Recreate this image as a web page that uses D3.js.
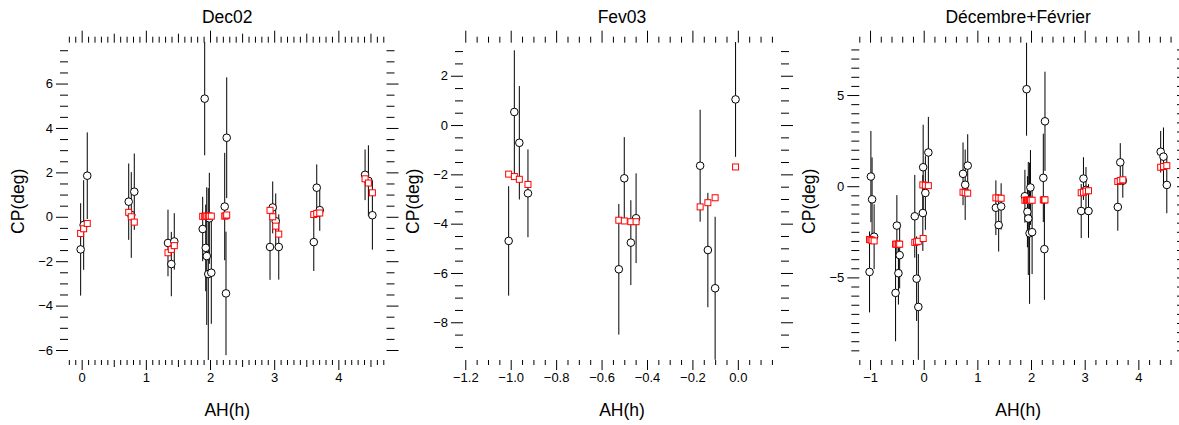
<!DOCTYPE html>
<html>
<head>
<meta charset="utf-8">
<style>
  body { margin: 0; background: #fff; }
  svg { display: block; font-family: "Liberation Sans", Arial, Helvetica, sans-serif; }
  .axis path.domain { display: none; }
  .axis line { stroke: #000; }
  .axis text { font-size: 13px; fill: #000; font-family: "Liberation Sans", Arial, sans-serif; }
</style>
</head>
<body>
<script src="https://d3js.org/d3.v7.min.js"></script>
<script>
// --- Dec02 observations ---
const decAH  = [-0.016, 0.031, 0.087, 0.733, 0.773, 0.82, 1.345, 1.397, 1.443,
                1.886, 1.917, 1.933, 1.949, 1.973, 1.989, 2.02, 2.229, 2.249, 2.26,
                2.935, 2.977, 3.024, 3.071, 3.617, 3.663, 3.71, 4.416, 4.468, 4.53];
const decCP  = [-1.47, -0.37, 1.85, 0.68, 0.08, 1.13, -1.18, -2.13, -1.11,
                -0.55, 5.32, -1.40, -1.77, -2.58, -0.07, -2.52, 0.46, -3.45, 3.56,
                -1.36, 0.42, -0.20, -1.36, -1.14, 1.31, 0.30, 1.89, 1.62, 0.07];
const decErr = [2.08, 2.02, 1.95, 1.72, 1.93, 1.72, 1.50, 1.45, 1.27,
                1.45, 2.55, 1.95, 3.10, 3.87, 2.05, 2.30, 2.42, 2.78, 2.72,
                1.48, 1.17, 1.25, 1.47, 1.30, 1.05, 0.93, 1.14, 1.60, 1.55];
const decFit = [-0.75, -0.54, -0.30, 0.20, 0.00, -0.24, -1.62, -1.47, -1.30,
                0.02, 0.02, 0.02, 0.03, 0.03, 0.03, 0.03, 0.03, 0.05, 0.08,
                0.29, 0.00, -0.42, -0.78, 0.10, 0.15, 0.17, 1.71, 1.52, 1.08];

// --- Fev03 observations ---
const fevAH  = [-1.009, -0.984, -0.962, -0.924, -0.524, -0.500, -0.471, -0.448,
                -0.166, -0.132, -0.100, -0.010];
const fevCP  = [-4.70, 0.53, -0.72, -2.77, -5.85, -2.16, -4.77, -3.78,
                -1.65, -5.07, -6.62, 1.04];
const fevErr = [2.22, 2.50, 2.30, 1.78, 2.65, 1.67, 1.72, 1.82,
                2.27, 2.32, 2.90, 2.33];
const fevFit = [-1.99, -2.09, -2.20, -2.41, -3.86, -3.89, -3.92, -3.92,
                -3.32, -3.15, -2.95, -1.70];

// --- joint fit (Décembre+Février) ---
const jointFitDec = [0.07, 0.05, 0.03, -0.33, -0.35, -0.38, -0.64, -0.65, -0.66,
                     -0.77, -0.77, -0.77, -0.77, -0.77, -0.77, -0.77, -0.75, -0.75, -0.75,
                     -0.36, -0.33, -0.27, -0.25, 0.26, 0.31, 0.35, 1.04, 1.08, 1.13];
const jointFitFev = [-2.92, -2.94, -2.97, -3.00, -3.18, -3.18, -3.18, -3.18,
                     -3.08, -3.05, -3.02, -2.87];

// labelled ticks
const decXTicks = [0, 1, 2, 3, 4];
const decYTicks = [-6, -4, -2, 0, 2, 4, 6];
const fevXTicks = [-1.2, -1.0, -0.8, -0.6, -0.4, -0.2, 0.0];
const fevYTicks = [-8, -6, -4, -2, 0, 2];
const allXTicks = [-1, 0, 1, 2, 3, 4];
const allYTicks = [-5, 0, 5];

const W = 1179, H = 425;
const plotTop = 42.7, plotBottom = 360;

const svg = d3.select('body').append('svg')
  .attr('width', W).attr('height', H);

const rows = (ah, cp, err, fit) => ah.map((x, i) => ({ x, y: cp[i], e: err[i], f: fit[i] }));

const panels = [
  {
    title: 'Dec02', left: 68, right: 386.5,
    xDomain: [-0.213, 4.75], yDomain: [-6.45, 7.84],
    xMinor: [-0.2, 4.7, 0.1], xMid: true, xMajor: decXTicks, xFmt: d3.format('d'),
    yMinor: [-6, 7.5, 0.5], yMajor: decYTicks, yFmt: d3.format('d'),
    data: rows(decAH, decCP, decErr, decFit)
  },
  {
    title: 'Fev03', left: 463, right: 781,
    xDomain: [-1.21, 0.19], yDomain: [-9.53, 3.34],
    xMinor: [-1.2, 0.15, 0.05], xMid: false, xMajor: fevXTicks, xFmt: d3.format('.1f'),
    yMinor: [-9, 3, 0.5], yMajor: fevYTicks, yFmt: d3.format('d'),
    data: rows(fevAH, fevCP, fevErr, fevFit)
  },
  {
    title: 'Décembre+Février', left: 859.3, right: 1177,
    xDomain: [-1.2, 4.72], yDomain: [-9.53, 7.87],
    xMinor: [-1.2, 4.6, 0.2], xMid: false, xMajor: allXTicks, xFmt: d3.format('d'),
    yMinor: [-9, 7.5, 0.5], yMajor: allYTicks, yFmt: d3.format('d'),
    data: rows(decAH.concat(fevAH), decCP.concat(fevCP), decErr.concat(fevErr),
               jointFitDec.concat(jointFitFev))
  }
];

const rnd = v => Math.round(v * 1e6) / 1e6;
const steps = ([a, b, s]) => d3.range(a, b + s / 2, s).map(rnd);

panels.forEach(p => {
  const x = d3.scaleLinear().domain(p.xDomain).range([p.left, p.right]);
  const y = d3.scaleLinear().domain(p.yDomain).range([plotBottom, plotTop]);
  const g = svg.append('g');

  const isMajor = (list) => v => list.some(m => Math.abs(m - v) < 1e-6);
  const xMid = p.xMid ? steps(p.xMinor).filter(v => Math.abs(v - Math.floor(v) - 0.5) < 1e-6) : [];
  const xMinor = steps(p.xMinor).filter(v => !isMajor(p.xMajor)(v) && !isMajor(xMid)(v));
  const yMinor = steps(p.yMinor).filter(v => !isMajor(p.yMajor)(v));

  const axis = (fn, scale, vals, size, fmt, tr, pad) => {
    g.append('g').attr('class', 'axis').attr('transform', tr)
      .call(fn(scale).tickValues(vals).tickSize(size).tickPadding(pad)
        .tickFormat(fmt || (() => '')));
  };

  // bottom
  axis(d3.axisBottom, x, xMinor, 5, null, `translate(0,${plotBottom})`, 3);
  axis(d3.axisBottom, x, xMid, 7, null, `translate(0,${plotBottom})`, 3);
  axis(d3.axisBottom, x, p.xMajor, 10, p.xFmt, `translate(0,${plotBottom})`, 2.5);
  // top
  axis(d3.axisTop, x, xMinor, 6, null, `translate(0,${plotTop})`, 3);
  axis(d3.axisTop, x, xMid, 9, null, `translate(0,${plotTop})`, 3);
  axis(d3.axisTop, x, p.xMajor, 12, null, `translate(0,${plotTop})`, 3);
  // left
  axis(d3.axisLeft, y, yMinor, 8, null, `translate(${p.left},0)`, 3);
  axis(d3.axisLeft, y, p.yMajor, 12, p.yFmt, `translate(${p.left},0)`, 3);
  // right
  axis(d3.axisRight, y, yMinor, 8, null, `translate(${p.right},0)`, 3);
  axis(d3.axisRight, y, p.yMajor, 12, null, `translate(${p.right},0)`, 3);

  const cx = (p.left + p.right) / 2;
  g.append('text').attr('x', cx).attr('y', 22.7)
    .attr('text-anchor', 'middle').style('font-size', '17.5px').text(p.title);
  g.append('text').attr('x', cx).attr('y', 416)
    .attr('text-anchor', 'middle').style('font-size', '17.5px').text('AH(h)');
  g.append('text')
    .attr('transform', `translate(${p.left - 44},${(plotTop + plotBottom) / 2}) rotate(-90)`)
    .attr('text-anchor', 'middle').style('font-size', '17.5px').text('CP(deg)');

  // error bars
  g.selectAll('line.err').data(p.data).enter().append('line')
    .attr('class', 'err')
    .attr('x1', d => x(d.x)).attr('x2', d => x(d.x))
    .attr('y1', d => y(d.y + d.e)).attr('y2', d => y(d.y - d.e))
    .attr('stroke', '#000').attr('stroke-width', 1);

  // observed points
  g.selectAll('circle.obs').data(p.data).enter().append('circle')
    .attr('class', 'obs')
    .attr('cx', d => x(d.x)).attr('cy', d => y(d.y)).attr('r', 3.8)
    .attr('fill', '#fff').attr('stroke', '#000').attr('stroke-width', 1);

  // fitted model
  g.selectAll('rect.fit').data(p.data).enter().append('rect')
    .attr('class', 'fit')
    .attr('x', d => x(d.x) - 3).attr('y', d => y(d.f) - 3)
    .attr('width', 6).attr('height', 6)
    .attr('fill', '#fff').attr('stroke', '#ff0000').attr('stroke-width', 1);
});
</script>
</body>
</html>
